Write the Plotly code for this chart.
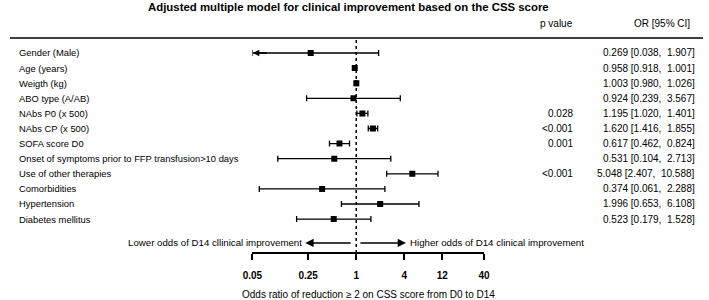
import math
import plotly.graph_objects as go

# ---- data ----
labels = ["Gender (Male)", "Age (years)", "Weigth (kg)", "ABO type (A/AB)",
          "NAbs P0 (x 500)", "NAbs CP (x 500)", "SOFA score D0",
          "Onset of symptoms prior to FFP transfusion>10 days",
          "Use of other therapies", "Comorbidities", "Hypertension",
          "Diabetes mellitus"]
odds = [0.269, 0.958, 1.003, 0.924, 1.195, 1.620, 0.617, 0.531, 5.048, 0.374, 1.996, 0.523]
ci_low = [0.038, 0.918, 0.980, 0.239, 1.020, 1.416, 0.462, 0.104, 2.407, 0.061, 0.653, 0.179]
ci_high = [1.907, 1.001, 1.026, 3.567, 1.401, 1.855, 0.824, 2.713, 10.588, 2.288, 6.108, 1.528]
p_values = ["", "", "", "", "0.028", "<0.001", "0.001", "", "<0.001", "", "", ""]
tick_vals = [0.05, 0.25, 1, 4, 12, 40]
tick_text = ["0.05", "0.25", "1", "4", "12", "40"]
x_min, x_max = 0.05, 40
lower_arrow = (0.89, 0.23)   # tail, tip (OR scale)
higher_arrow = (1.08, 4.2)
lower_text = "Lower odds of D14 cllinical improvement"
higher_text = "Higher odds of D14 clinical improvement"
title = "Adjusted multiple model for clinical improvement based on the CSS score"
x_title = "Odds ratio of reduction \u2265 2 on CSS score from D0 to D14"

FONT = "Liberation Sans, Arial, sans-serif"
W, H = 709, 300
n = len(labels)
rows = list(range(n))
y_top, y_bot = -3.51, 16.36
arrow_row = 12.58

fig = go.Figure()
fig.add_trace(go.Scatter(
    x=odds, y=rows, mode="markers",
    marker=dict(symbol="square", size=6, color="black"),
    error_x=dict(type="data", symmetric=False,
                 array=[h - o for h, o in zip(ci_high, odds)],
                 arrayminus=[o - max(l, x_min) for l, o in zip(ci_low, odds)],
                 color="black", thickness=1.3, width=3),
    showlegend=False, hoverinfo="skip"))

txt = dict(size=10, family=FONT, color="black")
lab_font = dict(size=9.4, family=FONT, color="black")
arr_font = dict(size=9.7, family=FONT, color="black")
ann = []
for i, lab in enumerate(labels):
    ann.append(dict(x=7 / W, xref="paper", y=i, yref="y", text=lab, showarrow=False,
                    xanchor="left", yanchor="middle", font=lab_font))
    if p_values[i]:
        ann.append(dict(x=578 / W, xref="paper", y=i, yref="y", text=p_values[i], showarrow=False,
                        xanchor="right", yanchor="middle", font=txt))
    ann.append(dict(x=703 / W, xref="paper", y=i, yref="y",
                    text=f"{odds[i]:.3f} [{ci_low[i]:.3f},\u00a0 {ci_high[i]:.3f}]", showarrow=False,
                    xanchor="right", yanchor="middle", font=txt))
    if ci_low[i] < x_min:
        ann.append(dict(x=math.log10(x_min) + 0.005, y=i, xref="x", yref="y",
                        ax=math.log10(x_min) + 0.2, ay=i, axref="x", ayref="y",
                        text="", showarrow=True, arrowhead=2, arrowsize=1, arrowwidth=1.3,
                        arrowcolor="black"))

# header
ann.append(dict(x=346 / W, xref="paper", y=1 - 7 / H, yref="paper", text="<b>" + title + "</b>",
                showarrow=False, xanchor="center", yanchor="middle",
                font=dict(size=11.4, family=FONT, color="black")))
ann.append(dict(x=578 / W, xref="paper", y=1 - 23 / H, yref="paper", text="p value",
                showarrow=False, xanchor="right", yanchor="middle", font=txt))
ann.append(dict(x=698 / W, xref="paper", y=1 - 23 / H, yref="paper", text="OR [95% CI]",
                showarrow=False, xanchor="right", yanchor="middle", font=txt))

# direction arrows
for (tail, tip) in (lower_arrow, higher_arrow):
    ann.append(dict(x=math.log10(tip), y=arrow_row, xref="x", yref="y",
                    ax=math.log10(tail), ay=arrow_row, axref="x", ayref="y",
                    text="", showarrow=True, arrowhead=2, arrowsize=1.1, arrowwidth=1.5,
                    arrowcolor="black"))
ann.append(dict(x=math.log10(lower_arrow[1]) - 0.02, y=arrow_row, xref="x", yref="y",
                text=lower_text, showarrow=False, xanchor="right", yanchor="middle", font=arr_font))
ann.append(dict(x=math.log10(higher_arrow[1]) + 0.02, y=arrow_row, xref="x", yref="y",
                text=higher_text, showarrow=False, xanchor="left", yanchor="middle", font=arr_font))
ann.append(dict(x=0.5 * (248 + 485) / W, xref="paper", y=1 - 294 / H, yref="paper", text=x_title,
                showarrow=False, xanchor="center", yanchor="middle", font=txt))

shapes = [
    dict(type="line", xref="paper", x0=0, x1=1, yref="y", y0=-1, y1=-1,
         line=dict(color="black", width=1.5)),
    dict(type="line", xref="x", x0=1, x1=1, yref="paper", y0=(H - 253) / H, y1=(H - 38) / H,
         line=dict(color="black", width=1.5, dash="dot")),
]

fig.update_layout(
    width=W, height=H, margin=dict(l=0, r=0, t=0, b=0),
    paper_bgcolor="white", plot_bgcolor="white",
    annotations=ann, shapes=shapes,
    xaxis=dict(type="log", range=[math.log10(x_min), math.log10(x_max)],
               domain=[248 / W, 485 / W], anchor="free", position=(H - 253) / H,
               tickvals=tick_vals, ticktext=["<b>" + t + "</b>" for t in tick_text],
               ticks="outside", ticklen=6, tickwidth=1.5, tickcolor="black",
               showline=True, linecolor="black", linewidth=1.5,
               showgrid=False, zeroline=False, ticklabelstandoff=7,
               tickfont=txt),
    yaxis=dict(range=[y_bot, y_top], visible=False, showgrid=False, zeroline=False),
)
fig.write_html("out.html", config={"displayModeBar": False},
               post_script="document.body.style.margin='0px';")
